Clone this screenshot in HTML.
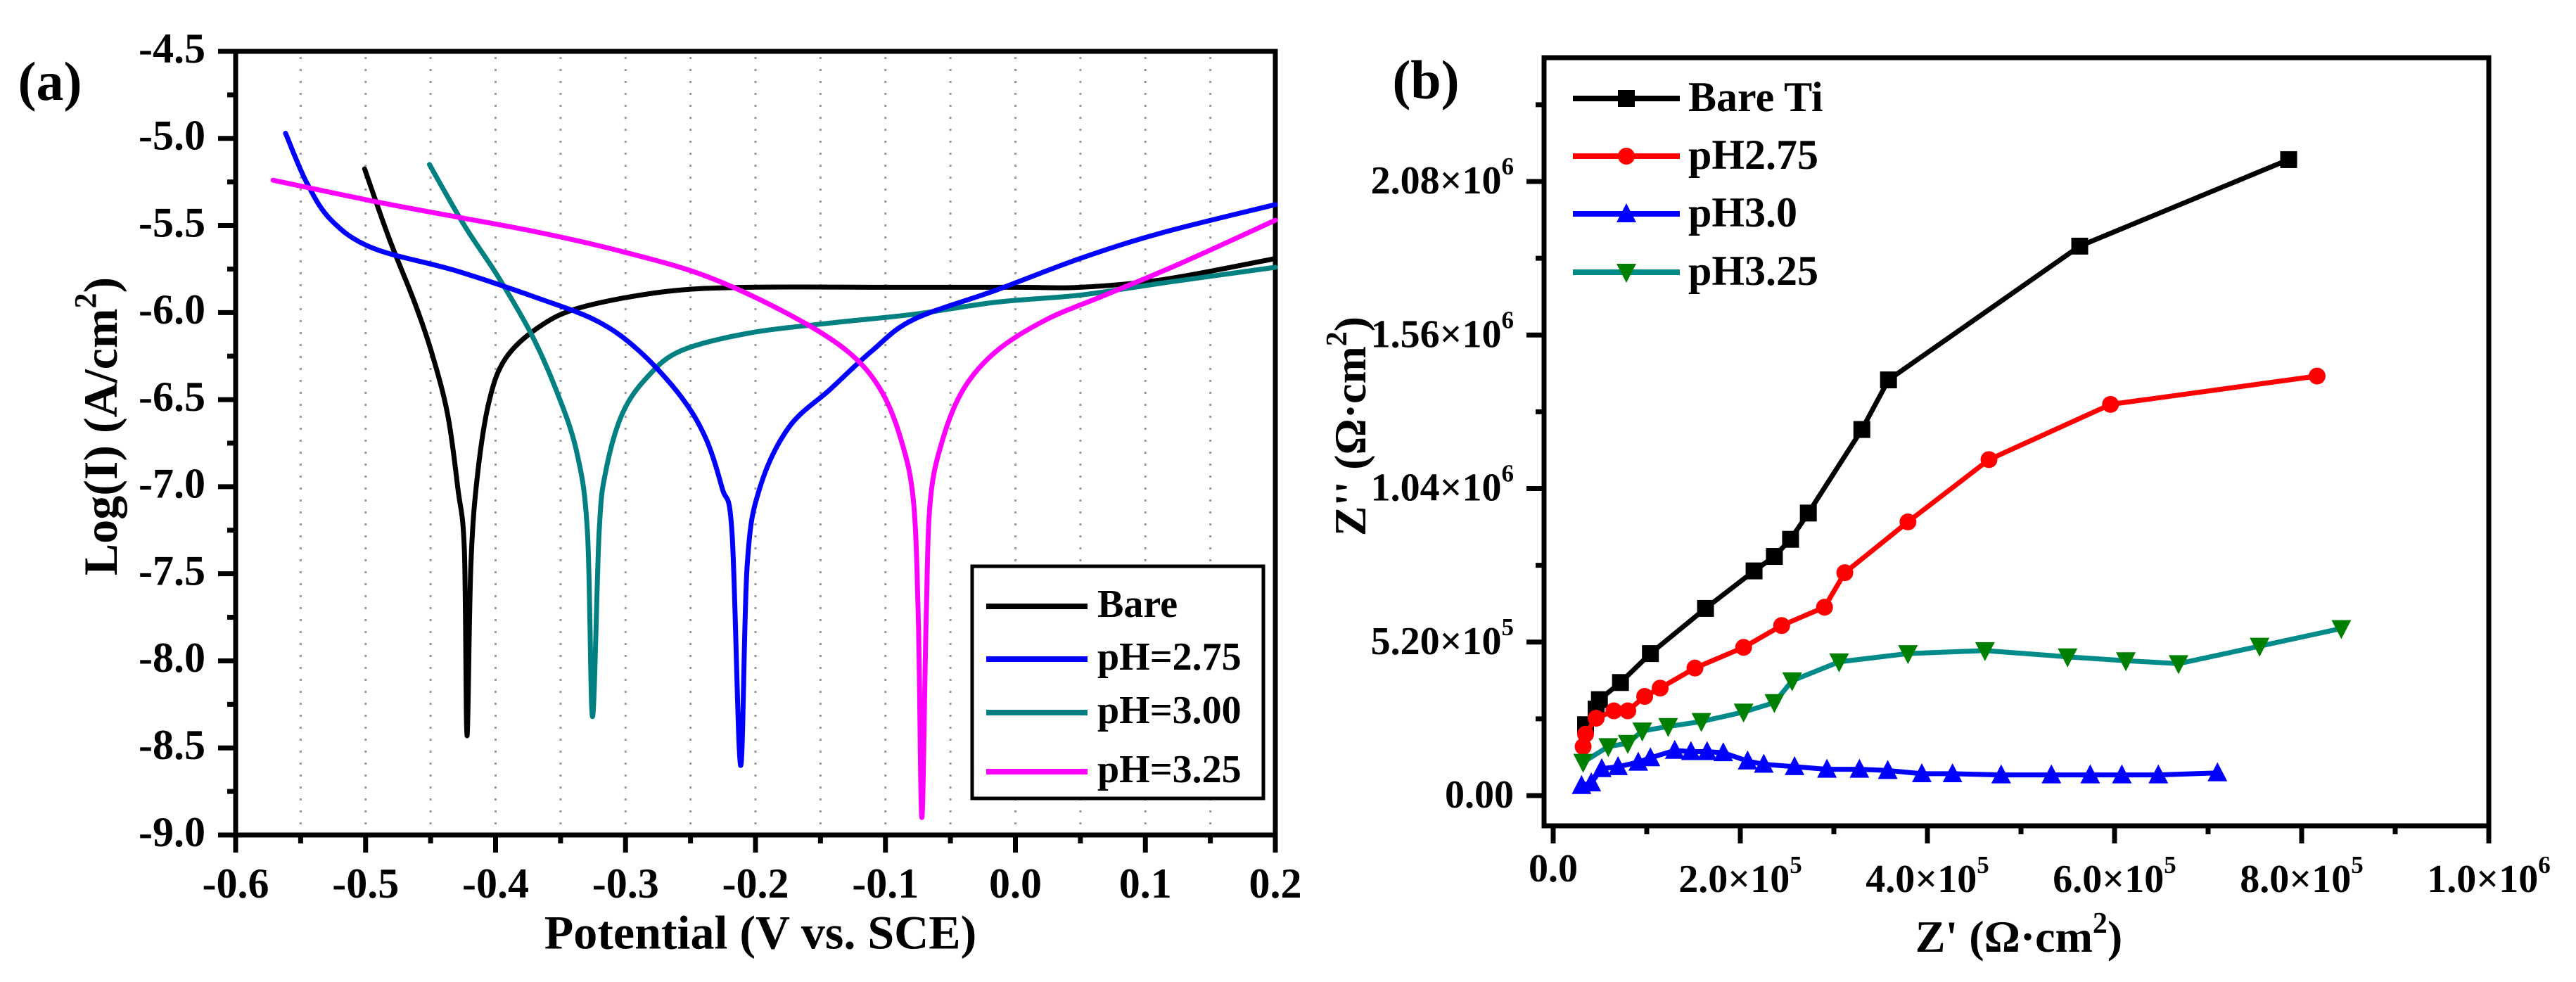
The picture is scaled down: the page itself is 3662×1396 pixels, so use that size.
<!DOCTYPE html>
<html><head><meta charset="utf-8">
<style>
html,body{margin:0;padding:0;background:#fff;}
svg{display:block;font-family:"Liberation Serif",serif;font-weight:bold;}
</style></head>
<body>
<svg id="fig" width="3662" height="1396" viewBox="0 0 3662 1396" xmlns="http://www.w3.org/2000/svg">
  <g id="pa"></g>
  <g id="pb"></g>
</svg>
<script>
// ---------- Panel (a) data: potential (V vs SCE) and log(I) ----------
const aXTicks = [-0.6,-0.5,-0.4,-0.3,-0.2,-0.1,0.0,0.1,0.2];
const aYTicks = [-4.5,-5.0,-5.5,-6.0,-6.5,-7.0,-7.5,-8.0,-8.5,-9.0];
const bareE = [-0.5008,-0.4816,-0.4624,-0.4496,-0.437,-0.429,-0.424,-0.422,-0.419,-0.414,-0.405,-0.392,-0.366,-0.334,-0.27,-0.206,-0.1,0.0,0.05,0.114,0.2];
const bareLog = [-5.175,-5.58,-5.94,-6.22,-6.58,-7.01,-7.37,-8.43,-7.45,-6.94,-6.51,-6.26,-6.08,-5.97,-5.88,-5.855,-5.855,-5.855,-5.855,-5.81,-5.69];
const ph275E = [-0.5616,-0.5456,-0.5264,-0.4944,-0.4304,-0.3664,-0.3216,-0.2896,-0.2576,-0.2384,-0.2256,-0.218,-0.2115,-0.2064,-0.1968,-0.1744,-0.1424,-0.1104,-0.0784,-0.0144,0.0496,0.1136,0.2];
const ph275Log = [-4.97,-5.25,-5.47,-5.63,-5.76,-5.92,-6.05,-6.22,-6.48,-6.72,-7.01,-7.27,-8.6,-7.45,-7.01,-6.66,-6.44,-6.22,-6.04,-5.87,-5.69,-5.54,-5.38];
const ph300E = [-0.4509,-0.424,-0.3984,-0.3728,-0.3536,-0.3376,-0.3293,-0.3254,-0.3203,-0.3152,-0.3024,-0.2832,-0.2576,-0.2064,-0.1424,-0.0784,-0.0144,0.0496,0.1136,0.2];
const ph300Log = [-5.15,-5.5,-5.79,-6.12,-6.44,-6.8,-7.26,-8.32,-7.26,-6.91,-6.58,-6.37,-6.22,-6.12,-6.06,-6.01,-5.94,-5.9,-5.83,-5.74];
const ph325E = [-0.5712,-0.4944,-0.4304,-0.3664,-0.3024,-0.2384,-0.1744,-0.1296,-0.104,-0.088,-0.0784,-0.0746,-0.072,-0.0688,-0.0656,-0.056,-0.04,-0.0144,0.024,0.0688,0.1264,0.2];
const ph325Log = [-5.24,-5.36,-5.45,-5.54,-5.65,-5.79,-6.01,-6.22,-6.44,-6.73,-7.09,-7.8,-8.9,-7.8,-7.09,-6.73,-6.44,-6.22,-6.04,-5.9,-5.72,-5.47];

// ---------- Panel (b) data: Z' and Z'' (Ω·cm²) ----------
const bXTicks = [0,2e5,4e5,6e5,8e5,1e6];
const bXTickLabels = ["0.0","2.0×10|5","4.0×10|5","6.0×10|5","8.0×10|5","1.0×10|6"];
const bYTicks = [0,5.2e5,1.04e6,1.56e6,2.08e6];
const bYTickLabels = ["0.00","5.20×10|5","1.04×10|6","1.56×10|6","2.08×10|6"];
const bareZr = [34.6e3,45.9e3,49.4e3,71.9e3,103.9e3,162.8e3,214.7e3,236.4e3,253.7e3,272.7e3,329.9e3,358.4e3,562.8e3,786.1e3];
const bareZi = [2.40e5,2.93e5,3.25e5,3.83e5,4.81e5,6.34e5,7.61e5,8.10e5,8.68e5,9.57e5,1.240e6,1.408e6,1.861e6,2.154e6];
const r275Zr = [32.0e3,34.6e3,45.9e3,64.9e3,79.7e3,97.8e3,114.3e3,151.5e3,203.5e3,244.2e3,290.0e3,311.7e3,379.2e3,465.8e3,595.7e3,816.5e3];
const r275Zi = [1.66e5,2.08e5,2.62e5,2.87e5,2.87e5,3.36e5,3.64e5,4.32e5,5.02e5,5.76e5,6.38e5,7.55e5,9.27e5,1.138e6,1.325e6,1.421e6];
const r300Zr = [30.3e3,40.7e3,51.9e3,69.3e3,90.9e3,103.9e3,129.9e3,147.2e3,164.5e3,181.8e3,207.8e3,225.1e3,258.0e3,292.6e3,327.3e3,357.6e3,394.0e3,426.8e3,478.8e3,532.5e3,574.0e3,607.8e3,646.8e3,710.0e3];
const r300Zi = [3.4e4,4.3e4,9.1e4,9.8e4,1.13e5,1.28e5,1.53e5,1.49e5,1.49e5,1.45e5,1.17e5,1.06e5,9.8e4,8.9e4,8.9e4,8.5e4,7.4e4,7.4e4,7.0e4,7.0e4,7.0e4,7.0e4,7.0e4,7.7e4];
const r325Zr = [32.0e3,58.9e3,79.7e3,95.2e3,122.9e3,158.4e3,203.5e3,236.4e3,255.4e3,305.6e3,379.2e3,461.5e3,549.8e3,612.1e3,668.4e3,755.0e3,842.4e3];
const r325Zi = [1.13e5,1.66e5,1.77e5,2.19e5,2.34e5,2.51e5,2.83e5,3.15e5,3.89e5,4.53e5,4.81e5,4.91e5,4.70e5,4.57e5,4.47e5,5.06e5,5.66e5];

const NS = "http://www.w3.org/2000/svg";
function mk(parent, tag, attrs, text){
  const e = document.createElementNS(NS, tag);
  for (const k in attrs) e.setAttribute(k, attrs[k]);
  if (text !== undefined) e.textContent = text;
  parent.appendChild(e);
  return e;
}
function supLabel(parent, x, y, str, size, anchor){
  const parts = str.split("|");
  const t = mk(parent, "text", {x:x, y:y, "font-size":size, "text-anchor":anchor, "dominant-baseline":"middle"});
  mk(t, "tspan", {}, parts[0]);
  if (parts.length > 1) {
    mk(t, "tspan", {dy:-22, "font-size":Math.round(size*0.62)}, parts[1]);
  }
  return t;
}
function smoothPath(P){
  let d = "M" + P[0][0].toFixed(1) + "," + P[0][1].toFixed(1);
  for (let i = 0; i < P.length - 1; i++) {
    const p0 = P[i-1] || P[i], p1 = P[i], p2 = P[i+1], p3 = P[i+2] || P[i+1];
    const c1x = p1[0] + (p2[0]-p0[0])/6, c1y = p1[1] + (p2[1]-p0[1])/6;
    const c2x = p2[0] - (p3[0]-p1[0])/6, c2y = p2[1] - (p3[1]-p1[1])/6;
    d += " C" + c1x.toFixed(1)+","+c1y.toFixed(1)+" "+c2x.toFixed(1)+","+c2y.toFixed(1)+" "+p2[0].toFixed(1)+","+p2[1].toFixed(1);
  }
  return d;
}

// ================= Panel (a) =================
const pa = document.getElementById("pa");
const aL=335, aR=1813, aT=73, aB=1187;
const ax = v => aL + (v - (-0.6)) / 0.8 * (aR - aL);
const ay = v => aT + ((-4.5) - v) / 4.5 * (aB - aT);

for (let i = 1; i < 16; i++) {
  const v = -0.6 + i * 0.05;
  const g = mk(pa, "line", {x1:ax(v), x2:ax(v), y1:aT+8, y2:aB-8, stroke:"#999", "stroke-width":3, "stroke-dasharray":"3 14"});
  
  
}
const fa = mk(pa, "rect", {x:aL, y:aT, width:aR-aL, height:aB-aT, fill:"none", stroke:"#000", "stroke-width":7});


for (let i = 0; i <= 16; i++) {
  const v = -0.6 + i * 0.05;
  const major = i % 2 === 0;
  mk(pa, "line", {x1:ax(v), x2:ax(v), y1:aB, y2:aB + (major ? 25 : 12), stroke:"#000", "stroke-width":7});
}
aXTicks.forEach(v => {
  const t = mk(pa, "text", {x:ax(v), y:1262, "font-size":60, "text-anchor":"middle", "dominant-baseline":"middle"}, v.toFixed(1));
  
  
});
for (let i = 0; i <= 18; i++) {
  const v = -4.5 - i * 0.25;
  const major = i % 2 === 0;
  mk(pa, "line", {x1:aL - (major ? 25 : 12), x2:aL, y1:ay(v), y2:ay(v), stroke:"#000", "stroke-width":7});
}
aYTicks.forEach(v => {
  const t = mk(pa, "text", {x:292, y:ay(v)+2, "font-size":60, "text-anchor":"end", "dominant-baseline":"middle"}, v.toFixed(1));
  
  
});
function tafel(E, L, color, name){
  const P = E.map((e,i) => [ax(e), ay(L[i])]);
  const p = mk(pa, "path", {d:smoothPath(P), fill:"none", stroke:color, "stroke-width":7, "stroke-linejoin":"round", "stroke-linecap":"round"});
  
  
}
tafel(bareE, bareLog, "#000", "curve-bare");
tafel(ph300E, ph300Log, "#008080", "curve-ph300");
tafel(ph275E, ph275Log, "#0000ff", "curve-ph275");
tafel(ph325E, ph325Log, "#ff00ff", "curve-ph325");
const lga = mk(pa, "g", {});


mk(lga, "rect", {x:1382, y:805, width:414, height:330, fill:"#fff", stroke:"#000", "stroke-width":5});
const legA = [["Bare","#000",862],["pH=2.75","#0000ff",937],["pH=3.00","#008080",1013],["pH=3.25","#ff00ff",1097]];
legA.forEach(r => {
  const g = mk(lga, "g", {});
  
  
  mk(g, "line", {x1:1402, x2:1546, y1:r[2], y2:r[2], stroke:r[1], "stroke-width":8});
  mk(g, "text", {x:1560, y:r[2]+2, "font-size":56, "dominant-baseline":"middle"}, r[0]);
});
const pla = mk(pa, "text", {x:71, y:124, "font-size":78, "text-anchor":"middle", "dominant-baseline":"middle"}, "(a)");


const xla = mk(pa, "text", {x:1081, y:1333, "font-size":68, "text-anchor":"middle", "dominant-baseline":"middle"}, "Potential (V vs. SCE)");


const yla = mk(pa, "text", {x:0, y:0, "font-size":68, "text-anchor":"middle", "dominant-baseline":"middle", transform:"translate(150,606) rotate(-90)"});


mk(yla, "tspan", {}, "Log(I) (A/cm");
mk(yla, "tspan", {dy:-24, "font-size":44}, "2");
mk(yla, "tspan", {dy:24}, ")");

// ================= Panel (b) =================
const pb = document.getElementById("pb");
const bL=2195, bR=3538, bT=82, bB=1174;
const x0=2208, xPer=1330/1e6;
const y0=1131, yPer=873/2.08e6;
const bx = v => x0 + v * xPer;
const by = v => y0 - v * yPer;

const fb = mk(pb, "rect", {x:bL, y:bT, width:bR-bL, height:bB-bT, fill:"none", stroke:"#000", "stroke-width":7});


for (let i = 0; i <= 10; i++) {
  const v = i * 1e5;
  const major = i % 2 === 0;
  mk(pb, "line", {x1:bx(v), x2:bx(v), y1:bB, y2:bB + (major ? 25 : 12), stroke:"#000", "stroke-width":7});
}
bXTicks.forEach((v,i) => {
  const t = supLabel(pb, bx(v), i === 0 ? 1240 : 1255, bXTickLabels[i], 56, "middle");
  
  
});
for (let i = 0; i <= 9; i++) {
  const v = i * 2.6e5;
  const major = i % 2 === 0;
  mk(pb, "line", {x1:bL - (major ? 25 : 12), x2:bL, y1:by(v), y2:by(v), stroke:"#000", "stroke-width":7});
}
bYTicks.forEach((v,i) => {
  const t = supLabel(pb, 2152, by(v)+4, bYTickLabels[i], 56, "end");
  
  
});

function marker(g, type, x, y, color){
  const s = 12;
  let m;
  if (type === "square") m = mk(g, "rect", {x:x-s, y:y-s, width:2*s, height:2*s, fill:color});
  else if (type === "circle") m = mk(g, "circle", {cx:x, cy:y, r:s, fill:color});
  else if (type === "up") m = mk(g, "polygon", {points:`${x},${y-s-3} ${x-s-2},${y+s} ${x+s+2},${y+s}`, fill:color});
  else m = mk(g, "polygon", {points:`${x-s-2},${y-s} ${x+s+2},${y-s} ${x},${y+s+3}`, fill:color});
  
  
}
function nyq(X, Y, color, mcolor, type, name){
  const g = mk(pb, "g", {});
  
  
  const pts = X.map((v,i) => bx(v).toFixed(1) + "," + by(Y[i]).toFixed(1)).join(" ");
  mk(g, "polyline", {points:pts, fill:"none", stroke:color, "stroke-width":7, "stroke-linejoin":"round"});
  X.forEach((v,i) => marker(g, type, bx(v), by(Y[i]), mcolor));
}
nyq(bareZr, bareZi, "#000", "#000", "square", "series-bare-ti");
nyq(r275Zr, r275Zi, "#ff0000", "#ff0000", "circle", "series-ph275");
nyq(r325Zr, r325Zi, "#008b8b", "#008000", "down", "series-ph325");
nyq(r300Zr, r300Zi, "#0000ff", "#0000ff", "up", "series-ph30");

const legB = [["Bare Ti","#000","#000","square",140],["pH2.75","#ff0000","#ff0000","circle",222],["pH3.0","#0000ff","#0000ff","up",304],["pH3.25","#008b8b","#008000","down",387]];
const lgb = mk(pb, "g", {});


legB.forEach(r => {
  const g = mk(lgb, "g", {});
  
  
  mk(g, "line", {x1:2236, x2:2388, y1:r[4], y2:r[4], stroke:r[1], "stroke-width":8});
  marker(g, r[3], 2312, r[4], r[2]);
  mk(g, "text", {x:2400, y:r[4]+4, "font-size":60, "dominant-baseline":"middle"}, r[0]);
});
const plb = mk(pb, "text", {x:2027, y:122, "font-size":78, "text-anchor":"middle", "dominant-baseline":"middle"}, "(b)");


const xlb = mk(pb, "text", {x:2870, y:1338, "font-size":64, "text-anchor":"middle", "dominant-baseline":"middle"});


mk(xlb, "tspan", {}, "Z' (Ω·cm");
mk(xlb, "tspan", {dy:-22, "font-size":42}, "2");
mk(xlb, "tspan", {dy:22}, ")");
const ylb = mk(pb, "text", {x:0, y:0, "font-size":64, "text-anchor":"middle", "dominant-baseline":"middle", transform:"translate(1926,606) rotate(-90)"});


mk(ylb, "tspan", {}, "Z'' (Ω·cm");
mk(ylb, "tspan", {dy:-22, "font-size":42}, "2");
mk(ylb, "tspan", {dy:22}, ")");
</script>
</body></html>
